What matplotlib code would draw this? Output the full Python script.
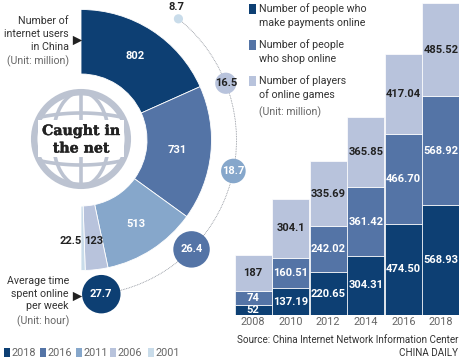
import numpy as np
import matplotlib
matplotlib.use('Agg')
import matplotlib.pyplot as plt
import matplotlib.patheffects as pe
from matplotlib.patches import Circle, Ellipse, Rectangle, Arc

years_users = ['2018', '2016', '2011', '2006', '2001']
users = [802, 731, 513, 123, 22.5]
hours = [8.7, 16.5, 18.7, 26.4, 27.7]
bar_years = ['2008', '2010', '2012', '2014', '2016', '2018']
payments = [52, 137.19, 220.65, 304.31, 474.50, 568.93]
shopping = [74, 160.51, 242.02, 361.42, 466.70, 568.92]
games = [187, 304.1, 335.69, 365.85, 417.04, 485.52]
payments_lbl = ['52', '137.19', '220.65', '304.31', '474.50', '568.93']
shopping_lbl = ['74', '160.51', '242.02', '361.42', '466.70', '568.92']
games_lbl = ['187', '304.1', '335.69', '365.85', '417.04', '485.52']

C18, C16, C11, C06, C01 = '#0d3f73', '#5474a6', '#86a7cb', '#b8c3dc', '#c9dcea'
GLOBE = '#bcc3d1'
W, H = 460, 358
plt.rcParams['font.family'] = ['Roboto', 'DejaVu Sans']

fig = plt.figure(figsize=(W/100, H/100), dpi=100, facecolor='white')
CX, CY, R, RIN = 81, 140, 130.5, 66

# donut
pa = fig.add_axes([0, 0, 1, 1])
total = sum(users)
pa.pie(np.array(users)/(2*total), normalize=False, startangle=90, counterclock=False,
       radius=R, center=(0, 0), colors=[C18, C16, C11, C06, C01],
       wedgeprops=dict(width=R-RIN, edgecolor='white', linewidth=0.6))
pa.set_xlim(-CX, W-CX)
pa.set_ylim(-(H-CY), CY)
pa.set_aspect('equal')
pa.axis('off')

# overlay in pixels
ov = fig.add_axes([0, 0, 1, 1], facecolor='none')
ov.set_xlim(0, W)
ov.set_ylim(H, 0)
ov.axis('off')

VAL = dict(fontsize=8.0, fontweight='bold', ha='center', va='center')

# wedge labels
cum = np.cumsum([0]+users)
mids = (cum[:-1]+cum[1:])/2/total*np.pi
for v, m, col, r in zip(users[:4], mids[:4], ['white', 'white', 'white', '#222222'], [100, 97, 100, 102]):
    ov.text(CX+r*np.sin(m), CY-r*np.cos(m), str(v), color=col, **VAL)
ov.text(71, 241.5, str(users[4]), color='#222222', **VAL)

# dotted arc + bubbles
ARC = 155.5
angles = np.array([38.8, 68.6, 101.5, 134.7, 172.5])
ov.add_patch(Arc((CX, CY), 2*ARC, 2*ARC, theta1=angles[0]-90, theta2=angles[-1]-90,
                 color='#8a8f98', lw=0.6, ls=(0, (1, 1)), zorder=1))
bx = CX+ARC*np.sin(np.radians(angles))
by = CY-ARC*np.cos(np.radians(angles))
rad = 0.77*np.array(hours)-2.1
ov.scatter(bx, by, s=(2*rad*0.72)**2, c=[C01, C06, C11, C16, C18], linewidths=0, zorder=2)
for x, y, v, col in zip(bx, by, hours, ['#222222', '#222222', 'white', 'white', 'white']):
    if v == hours[0]:
        ov.text(x-2, 7, str(v), color='#222222', zorder=3, **VAL)
    else:
        ov.text(x, y, str(v), color=col, zorder=3, **VAL)

# globe
gc = (81, 139)
lw = 6.5*0.72
thin = 3.6*0.72
ov.add_patch(Circle(gc, 46.8, fill=False, ec=GLOBE, lw=lw))
ov.add_patch(Ellipse(gc, 56, 94, fill=False, ec=GLOBE, lw=thin))
ov.plot([gc[0], gc[0]], [gc[1]-47, gc[1]+47], color=GLOBE, lw=thin, solid_capstyle='butt')
u = np.linspace(-1, 1, 60)
for sgn in (-1, 1):
    ov.plot(gc[0]+40*u, gc[1]+sgn*(26-4*u**2), color=GLOBE, lw=thin, solid_capstyle='butt')
ov.add_patch(Rectangle((38, 120), 86, 37, fc='white', ec='none', zorder=3))
for y, s in zip([131, 148.5], ['Caught in', 'the net']):
    ov.text(81, y, s, family='DejaVu Serif', fontweight='bold', fontsize=10.2, ha='center', va='center',
            color='#222222', zorder=4,
            path_effects=[pe.withStroke(linewidth=0.3, foreground='#222222')])

# left notes
TC, GC = '#333333', '#666666'
for y, s, c in zip([21, 34, 47, 61], ['Number of', 'internet users', 'in China', '(Unit: million)'], [TC, TC, TC, GC]):
    ov.text(69, y, s, ha='right', va='center', fontsize=7.7 if c == TC else 7.6, color=c)
for y, s, c in zip([281, 294, 306, 321], ['Average time', 'spent online', 'per week', '(Unit: hour)'], [TC, TC, TC, GC]):
    ov.text(69, y, s, ha='right', va='center', fontsize=7.7 if c == TC else 7.6, color=c)
ov.scatter([77, 77], [40, 296], marker='>', s=45, c='#222222', linewidths=0)

# bottom legend
for x, lab, c in zip([4, 40, 76, 110, 148], years_users, [C18, C16, C11, C06, C01]):
    ov.add_patch(Rectangle((x, 348), 6.5, 9, fc=c, ec='none'))
    ov.text(x+7.5, 352.5, lab, ha='left', va='center', fontsize=7.8, color=GC)

# right legend
for y, c in zip([4, 40, 76], [C18, C16, C06]):
    ov.add_patch(Rectangle((249, y), 7, 10, fc=c, ec='none'))
for y, s in zip([9, 23, 45, 59, 81, 95],
                ['Number of people who', 'make payments online', 'Number of people', 'who shop online',
                 'Number of players', 'of online games']):
    ov.text(259, y, s, ha='left', va='center', fontsize=7.7, color=TC)
ov.text(259, 112, '(Unit: million)', ha='left', va='center', fontsize=7.6, color=GC)

# source
ov.text(458, 340, 'Source: China Internet Network Information Center', ha='right', va='center', fontsize=7.15, color=TC)
ov.text(458, 353, 'CHINA DAILY', ha='right', va='center', fontsize=7.15, color=TC)

# bars
BL, BR, BB, SCALE = 234.5, 459.5, 314.7, 0.192
top = sum(v[-1] for v in (payments, shopping, games))
ax = fig.add_axes([BL/W, 1-BB/H, (BR-BL)/W, top*SCALE/H], facecolor='none', zorder=0)
pos = np.arange(6)
pay, sh, ga = map(np.array, (payments, shopping, games))
kw = dict(width=0.985, edgecolor='white', linewidth=0.5)
ax.bar(pos, pay, color=C18, **kw)
ax.bar(pos, sh, bottom=pay, color=C16, **kw)
ax.bar(pos, ga, bottom=pay+sh, color=C06, **kw)
ax.set_xlim(-0.5, 5.5)
ax.set_ylim(0, top)
ax.axis('off')
for i in pos:
    ax.text(i, pay[i]/2, payments_lbl[i], color='white', **VAL)
    ax.text(i, pay[i]+sh[i]/2, shopping_lbl[i], color='white', **VAL)
    ax.text(i, pay[i]+sh[i]+ga[i]/2, games_lbl[i], color='#222222', **VAL)
    ax.text(i, -7.5/SCALE, bar_years[i], color=GC, ha='center', va='center', fontsize=7.8, clip_on=False)

fig.savefig('out.png', dpi=100)
